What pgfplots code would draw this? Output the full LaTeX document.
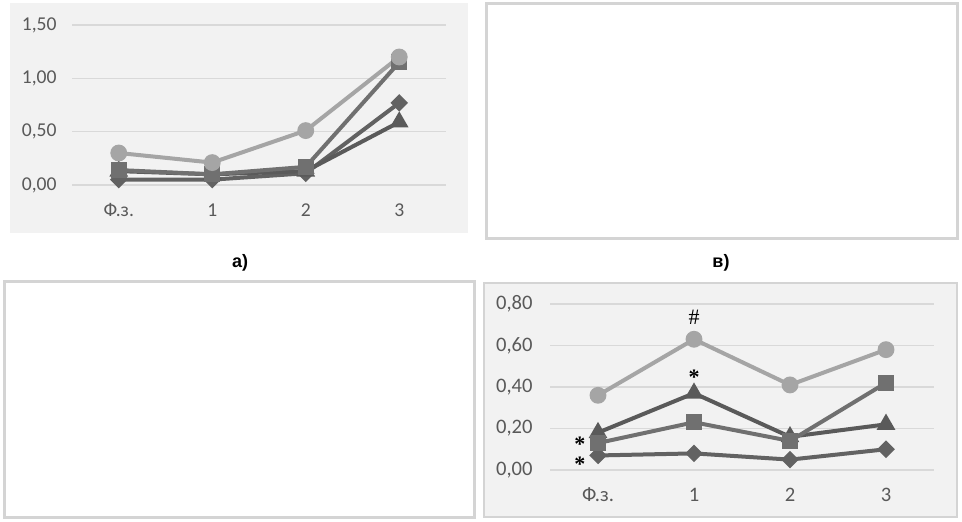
\documentclass[border=0pt]{standalone}
\usepackage{fontspec}
\setmainfont{Liberation Sans}
\newfontfamily\calib{Carlito}
\newfontfamily\timesf{Liberation Serif}
\usepackage{pgfplots}
\pgfplotsset{compat=1.18}

\definecolor{panel}{HTML}{F2F2F2}
\definecolor{tickgray}{HTML}{595959}
\definecolor{gridgray}{HTML}{D9D9D9}
\definecolor{framegray}{HTML}{D4D4D4}
\definecolor{cCirc}{HTML}{A5A5A5}
\definecolor{cSq}{HTML}{707070}
\definecolor{cTri}{HTML}{5A5A5A}
\definecolor{cDia}{HTML}{626262}

\tikzset{starlbl/.style={font=\timesf\bfseries\fontsize{11}{11}\selectfont, inner sep=0pt}}

\pgfplotsset{
  panelaxis/.style={
    scale only axis,
    clip=false,
    axis line style={draw=none},
    major tick length=0pt,
    xmin=-0.5, xmax=3.5,
    xtick={0,1,2,3},
    xticklabels={Ф.з.,1,2,3},
    ymajorgrids,
    grid style={draw=gridgray, line width=0.6pt},
    /pgf/number format/.cd, fixed, fixed zerofill, precision=2, use comma,
    assume math mode=true,
    /pgfplots/.cd,
    tick label style={text=tickgray, inner sep=0pt},
  },
  sD/.style={color=cDia, line width=2pt, mark=square*, mark size=2.1pt, mark options={solid, fill=cDia, rotate=45}},
  sT/.style={color=cTri, line width=2pt, mark=triangle*, mark size=3.4pt, mark options={solid, fill=cTri}},
  sS/.style={color=cSq, line width=2pt, mark=square*, mark size=3pt, mark options={solid, fill=cSq}},
  sC/.style={color=cCirc, line width=2pt, mark=*, mark size=3.2pt, mark options={solid, fill=cCirc}},
}

\begin{document}
\begin{tikzpicture}
\useasboundingbox (0,0) rectangle (481pt,-261pt);

% panel backgrounds and frames
\fill[panel] (5pt,-1.5pt) rectangle (234pt,-116.5pt);
\draw[framegray, line width=1.5pt, fill=white] (243pt,-2pt) rectangle (478.5pt,-119.5pt);
\draw[framegray, line width=1.5pt, fill=white] (2pt,-141pt) rectangle (237pt,-259pt);
\draw[framegray, line width=1pt, fill=panel] (242pt,-141.5pt) rectangle (478.5pt,-258.5pt);

% captions
\node[font=\bfseries\fontsize{9}{11}\selectfont] at (120pt,-131.5pt) {а)};
\node[font=\bfseries\fontsize{9}{11}\selectfont] at (360.5pt,-131.5pt) {в)};

% panel a
\begin{axis}[panelaxis,
  at={(36pt,-92.5pt)}, anchor=south west,
  width=187pt, height=80pt,
  ymin=0, ymax=1.5, ytick={0,0.5,1,1.5},
  tick label style={font=\calib\fontsize{9.8}{11}\selectfont},
  yticklabel style={anchor=east, xshift=-7.5pt},
  xticklabel style={anchor=base, yshift=-16pt},
]
\addplot[sD] coordinates {(0,0.05) (1,0.05) (2,0.11) (3,0.77)};
\addplot[sT] coordinates {(0,0.13) (1,0.10) (2,0.13) (3,0.59)};
\addplot[sS] coordinates {(0,0.14) (1,0.10) (2,0.17) (3,1.15)};
\addplot[sC] coordinates {(0,0.30) (1,0.21) (2,0.51) (3,1.20)};
\end{axis}

% panel bottom right
\begin{axis}[panelaxis,
  at={(275pt,-235pt)}, anchor=south west,
  width=192pt, height=83pt,
  ymin=0, ymax=0.8, ytick={0,0.2,0.4,0.6,0.8},
  tick label style={font=\calib\fontsize{10.3}{12}\selectfont},
  yticklabel style={anchor=east, xshift=-8.5pt},
  xticklabel style={anchor=base, yshift=-15.5pt},
]
\addplot[sD] coordinates {(0,0.07) (1,0.08) (2,0.05) (3,0.10)};
\addplot[sT] coordinates {(0,0.18) (1,0.37) (2,0.16) (3,0.22)};
\addplot[sS] coordinates {(0,0.13) (1,0.23) (2,0.14) (3,0.42)};
\addplot[sC] coordinates {(0,0.36) (1,0.63) (2,0.41) (3,0.58)};
\node[font=\timesf\fontsize{11}{12}\selectfont, inner sep=0pt] at (axis cs:1,0.735) {\#};
\node[starlbl] at (axis cs:1,0.445) {*};
\node[starlbl] at (axis cs:-0.19,0.125) {*};
\node[starlbl] at (axis cs:-0.19,0.03) {*};
\end{axis}
\end{tikzpicture}
\end{document}
